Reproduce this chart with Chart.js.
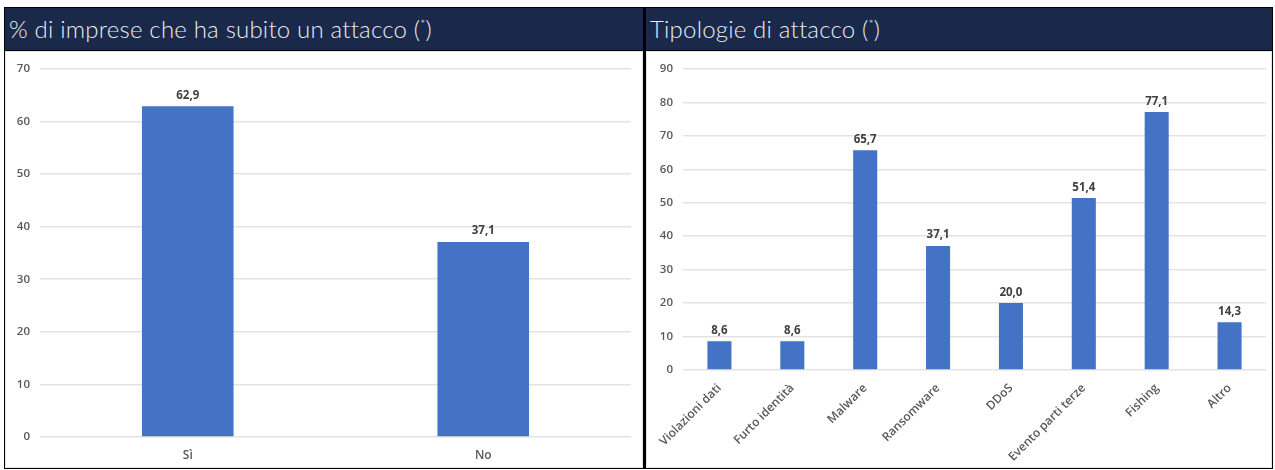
<!DOCTYPE html>
<html>
<head>
<meta charset="utf-8">
<script src="https://cdn.jsdelivr.net/npm/chart.js@4"></script>
<style>
  body { margin: 0; background: #fff; width: 1275px; height: 470px; overflow: hidden; font-family: "Noto Sans", sans-serif; }
  .wrap { position: absolute; left: 4px; top: 7px; width: 1269px; height: 462px; background: #000; }
  .panel { position: absolute; top: 1px; height: 460px; background: #000; }
  .head { position: absolute; left: 0; top: 0; right: 0; height: 42px; background: #1a2849; color: #e9edf5;
          font-family: "Lato", "Noto Sans", sans-serif; font-size: 24px; font-weight: 300; line-height: 42px;
          padding-left: 4px; letter-spacing: 0.2px; }
  .head sup { font-size: 12px; line-height: 0; vertical-align: 10px; }
  .body { position: absolute; left: 0; right: 0; top: 43px; bottom: 0; background: #fff; border: 1px solid #e4e4e4; box-sizing: border-box; }
  canvas { display: block; }
</style>
</head>
<body>
<div class="wrap">
  <div class="panel" style="left:1px; width:638px;">
    <div class="head">% di imprese che ha subito un attacco (<sup>*</sup>)</div>
    <div class="body"><canvas id="chartLeft" width="636" height="415"></canvas></div>
  </div>
  <div class="panel" style="left:642px; width:626px;">
    <div class="head">Tipologie di attacco (<sup>*</sup>)</div>
    <div class="body"><canvas id="chartRight" width="624" height="415"></canvas></div>
  </div>
</div>
<script>
// first panel: share of companies hit
var attackLabels = ['Sì', 'No'];
var attackValues = [62.9, 37.1];

// second panel: kind of attack
var typeLabels = ['Violazioni dati', 'Furto identità', 'Malware', 'Ransomware', 'DDoS', 'Evento parti terze', 'Fishing', 'Altro'];
var typeValues = [8.6, 8.6, 65.7, 37.1, 20.0, 51.4, 77.1, 14.3];

var barColor = '#4472c4';
var tickColor = '#595959';
var gridColor = '#e3e3e3';

// value written above every bar, italian decimal comma
var valueLabels = {
  id: 'valueLabels',
  afterDatasetsDraw: function(chart) {
    var ctx = chart.ctx;
    ctx.save();
    ctx.font = 'bold 11.5px "Open Sans", sans-serif';
    ctx.fillStyle = '#404040';
    ctx.textAlign = 'center';
    ctx.textBaseline = 'bottom';
    chart.getDatasetMeta(0).data.forEach(function(bar, i) {
      var v = chart.data.datasets[0].data[i];
      ctx.fillText(v.toFixed(1).replace('.', ','), bar.x, bar.y - 5);
    });
    ctx.restore();
  }
};

function makeChart(id, labels, values, opts) {
  return new Chart(document.getElementById(id), {
    type: 'bar',
    data: {
      labels: labels,
      datasets: [{
        data: values,
        backgroundColor: barColor,
        categoryPercentage: 1,
        barPercentage: opts.barPct
      }]
    },
    options: {
      responsive: false,
      animation: false,
      layout: { padding: { top: 16, right: opts.padRight, left: 0, bottom: 0 } },
      plugins: { legend: { display: false }, tooltip: { enabled: false } },
      scales: {
        x: {
          grid: { display: false },
          border: { display: false },
          ticks: {
            color: tickColor,
            font: { family: '"Open Sans", sans-serif', size: 12, weight: '600' },
            minRotation: opts.rot, maxRotation: opts.rot,
            padding: 3
          },
          afterFit: function(s) { s.height = opts.xHeight; }
        },
        y: {
          min: 0, max: opts.max,
          grid: { color: gridColor, lineWidth: 1.5, drawTicks: false },
          border: { display: false },
          ticks: {
            stepSize: 10,
            color: tickColor,
            font: { family: '"Open Sans", sans-serif', size: 11.5, weight: '600' },
            padding: 10
          },
          afterFit: function(s) { s.width = opts.yWidth; }
        }
      }
    },
    plugins: [valueLabels]
  });
}

makeChart('chartLeft', attackLabels, attackValues, { max: 70, barPct: 0.31, rot: 0, padRight: 11, xHeight: 30, yWidth: 34 });
makeChart('chartRight', typeLabels, typeValues, { max: 90, barPct: 0.33, rot: 45, padRight: 5, xHeight: 97, yWidth: 36 });
</script>
</body>
</html>
